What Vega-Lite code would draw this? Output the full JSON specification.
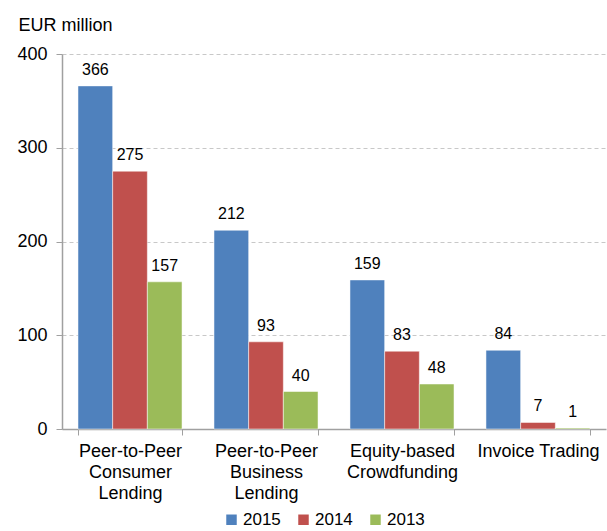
{
  "$schema": "https://vega.github.io/schema/vega-lite/v6.json",
  "autosize": {"type": "none"},
  "width": 544,
  "height": 375,
  "padding": {"left": 62, "top": 54, "right": 1, "bottom": 102},
  "background": "white",
  "config": {
    "font": "Liberation Sans",
    "view": {"stroke": null},
    "axis": {"labelFont": "Liberation Sans", "labelColor": "#000000", "labelFontSize": 18}
  },
  "data": {
    "values": [
      {"category": "Peer-to-Peer Consumer Lending", "year": "2015", "value": 366},
      {"category": "Peer-to-Peer Consumer Lending", "year": "2014", "value": 275},
      {"category": "Peer-to-Peer Consumer Lending", "year": "2013", "value": 157},
      {"category": "Peer-to-Peer Business Lending", "year": "2015", "value": 212},
      {"category": "Peer-to-Peer Business Lending", "year": "2014", "value": 93},
      {"category": "Peer-to-Peer Business Lending", "year": "2013", "value": 40},
      {"category": "Equity-based Crowdfunding", "year": "2015", "value": 159},
      {"category": "Equity-based Crowdfunding", "year": "2014", "value": 83},
      {"category": "Equity-based Crowdfunding", "year": "2013", "value": 48},
      {"category": "Invoice Trading", "year": "2015", "value": 84},
      {"category": "Invoice Trading", "year": "2014", "value": 7},
      {"category": "Invoice Trading", "year": "2013", "value": 1}
    ]
  },
  "encoding": {
    "x": {
      "field": "category", "type": "nominal", "sort": null,
      "scale": {"paddingInner": 0.235, "paddingOuter": 0.1176},
      "axis": {
        "title": null, "labelAngle": 0,
        "labelExpr": "!isValid(datum.value) ? '' : (datum.value == 'Invoice Trading' ? datum.value : split(datum.value, ' '))",
        "labelLineHeight": 21, "labelPadding": 7, "labelBaseline": "top",
        "tickBand": "extent", "tickSize": 6, "tickColor": "#a0a0a0",
        "domainColor": "#a0a0a0", "domainWidth": 1.5, "labelLimit": 200
      }
    },
    "xOffset": {"field": "year", "type": "nominal", "sort": ["2015", "2014", "2013"], "scale": {"paddingInner": 0}},
    "y": {
      "field": "value", "type": "quantitative",
      "scale": {"domain": [0, 400]},
      "axis": {
        "title": "EUR million", "titleAngle": 0, "titleX": -44, "titleY": -29,
        "titleAlign": "left", "titleBaseline": "middle", "titleFontSize": 18,
        "titleFontWeight": "normal", "titleFont": "Liberation Sans", "titleColor": "#000000",
        "values": [0, 100, 200, 300, 400], "tickSize": 6, "tickColor": "#a0a0a0",
        "domainColor": "#a0a0a0", "domainWidth": 1.5, "labelPadding": 9,
        "gridColor": "#c8c8c8", "gridDash": [4, 3], "gridWidth": 1
      }
    }
  },
  "layer": [
    {
      "mark": {"type": "bar", "stroke": "white", "strokeWidth": 0.5},
      "encoding": {
        "color": {
          "field": "year", "type": "nominal", "sort": ["2015", "2014", "2013"],
          "scale": {"domain": ["2015", "2014", "2013"], "range": ["#4F81BD", "#C0504D", "#9BBB59"]},
          "legend": {
            "title": null, "orient": "none", "direction": "horizontal",
            "legendX": 161, "legendY": 457, "symbolType": "square", "symbolSize": 110,
            "symbolStrokeWidth": 0, "labelFontSize": 17, "labelFont": "Liberation Sans",
            "labelColor": "#000000", "columnPadding": 14, "labelOffset": 3
          }
        }
      }
    },
    {
      "mark": {"type": "text", "baseline": "bottom", "dy": -8, "fontSize": 16, "font": "Liberation Sans", "color": "#000000"},
      "encoding": {"text": {"field": "value", "type": "quantitative"}}
    }
  ]
}
